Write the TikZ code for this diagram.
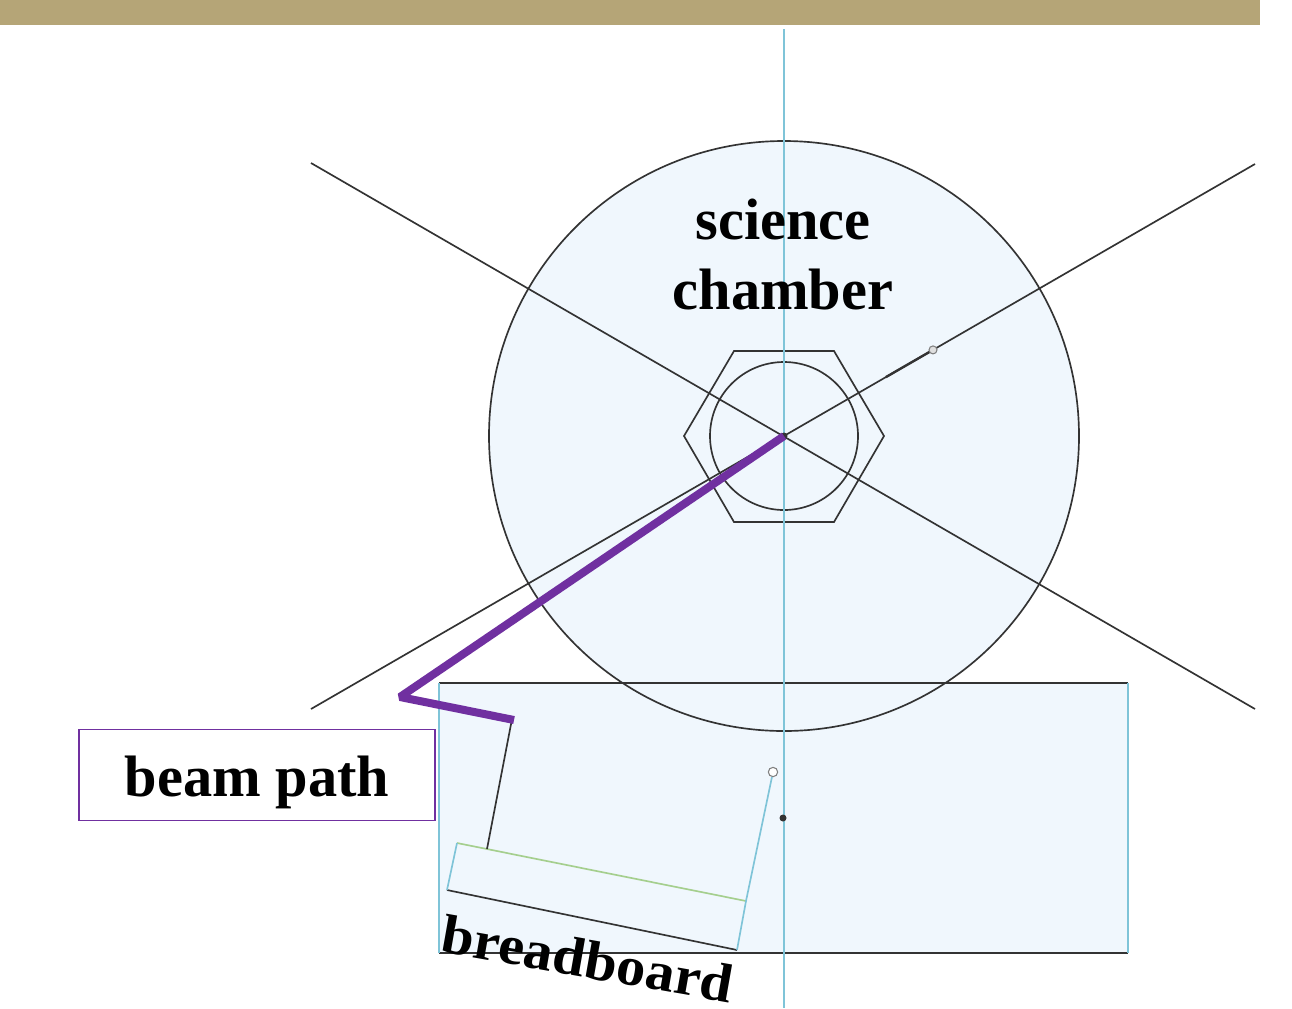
\documentclass[tikz,border=0pt]{standalone}
\usepackage{fontspec}
\usetikzlibrary{calc}
\setmainfont{Liberation Serif}
\definecolor{fillb}{HTML}{F0F7FD}
\definecolor{band}{HTML}{B5A577}
\definecolor{cyanl}{HTML}{7FC4D8}
\definecolor{purp}{HTML}{7030A0}
\definecolor{greenl}{HTML}{A5CF8E}
\definecolor{dk}{HTML}{333333}
\tikzset{
  px/.style={x=0.75pt,y=-0.75pt},
  dline/.style={draw=dk,line width=1.25pt},
  cline/.style={draw=cyanl,line width=1.25pt},
  beam/.style={draw=purp,line width=6pt,line join=bevel},
  lab/.style={font=\bfseries\fontsize{43.8}{52}\selectfont,text=black,align=center,inner sep=0pt},
}
\begin{document}
\begin{tikzpicture}[px]
\useasboundingbox (0,0) rectangle (1292,1008);
\fill[white] (0,0) rectangle (1292,1008);
\fill[band] (0,0) rectangle (1260,25);
\coordinate (c) at (784,436);
\coordinate (la) at (311,709);
\coordinate (lb) at (1255,164);
\fill[fillb] (439,683) rectangle (1128,953);
\fill[fillb] (c) circle[radius=295];
\draw[dline] (c) circle[radius=295];
\draw[dline] (311,163) -- (1255,709);
\draw[dline] (la) -- (lb);
\draw[dline] (734,351) -- (834,351) -- (884,436) -- (834,522) -- (734,522) -- (684,436) -- cycle;
\draw[dline] (c) circle[radius=74];
\draw[dline] (439,683) -- (1128,683);
\draw[dline] (439,953) -- (1128,953);
\draw[cline] (439,683) -- (439,953);
\draw[cline] (1128,683) -- (1128,953);
\draw[cline] (784,29) -- (784,1008);
\fill[dk] (c) circle[radius=3.5];
\fill[dk] (783,818) circle[radius=3.5];
\coordinate (bbA) at (457,843);
\coordinate (bbB) at (746,901);
\coordinate (bbC) at (737,950);
\coordinate (bbD) at (447,890);
\draw[fill=fillb,draw=none] (bbA) -- (bbB) -- (bbC) -- (bbD) -- cycle;
\draw[draw=greenl,line width=1.25pt] (bbA) -- (bbB);
\draw[dline] (bbC) -- (bbD);
\draw[cline] (bbA) -- (bbD);
\draw[cline] (bbB) -- (bbC);
\draw[draw=dk,line width=1.8pt] ($(la)!0.609!(lb)$) -- ($(la)!0.6589!(lb)$);
\node[circle,draw=gray,fill=gray!25,line width=0.8pt,inner sep=0pt,minimum size=6pt] (p1) at ($(la)!0.6589!(lb)$) {};
\node[circle,draw=gray,fill=white,line width=0.8pt,inner sep=0pt,minimum size=7pt] (p2) at (773,772) {};
\draw[cline] (bbB) -- (p2);
\draw[dline] (487,849) -- (512,719);
\draw[beam] (c) -- (400,697) -- (514,720);
\node[draw=purp,line width=1.2pt,fill=white,minimum width=267pt,minimum height=68pt,inner sep=0pt] (bp) at (257,775) {};
\node[lab] (bpt) at (257,782) {beam path};
\node[lab] (sc1) at (783,220) {science};
\node[lab] (sc2) at (783,290) {chamber};
\node[lab,rotate=-10,xscale=1.0,yscale=0.94] (bb) at (588,959) {breadboard};
\end{tikzpicture}
\end{document}
